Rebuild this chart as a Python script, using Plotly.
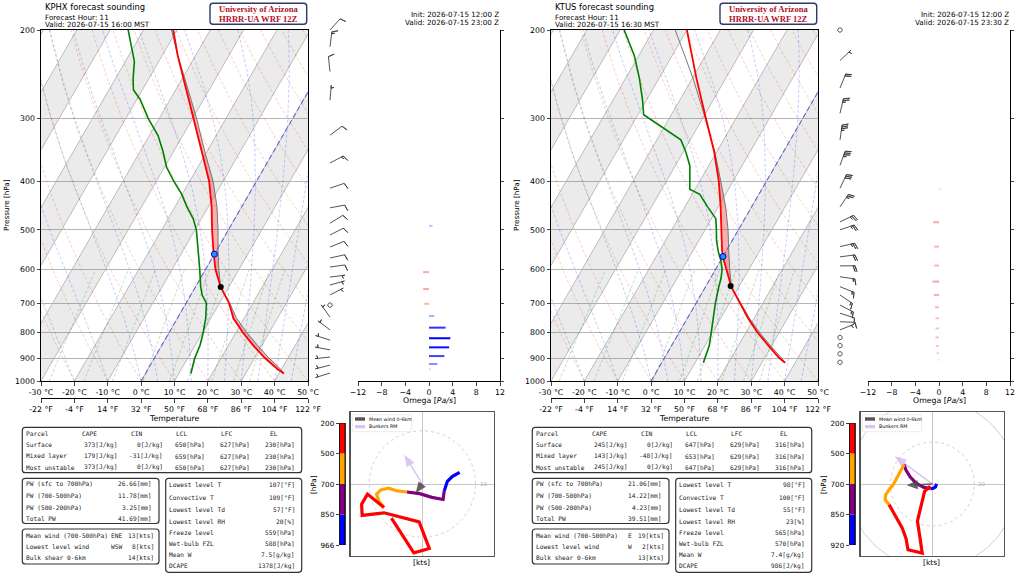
import numpy as np
import plotly.graph_objects as go

W, H = 1024, 575
SANS = "DejaVu Sans"
MONO = "DejaVu Sans Mono"
SERIF = "Liberation Serif"

# skew-T frame in pixels for the KPHX panel, the KTUS panel sits 510 px to the right
SK_L, SK_R, SK_T, SK_B = 41, 308, 30, 381
TMIN, TMAX = -30, 50
P_BOT, P_TOP = 1000.0, 200.0
LOG_PER_PX = np.log10(P_BOT / P_TOP) / (SK_B - SK_T)
SKEW = np.tan(np.radians(30)) * ((SK_B - SK_T) / np.log(P_BOT / P_TOP)) / ((SK_R - SK_L) / (TMAX - TMIN))
PRESSURE_TICKS = [200, 300, 400, 500, 600, 700, 800, 900, 1000]
TEMP_TICKS = list(range(-30, 51, 10))
OMEGA_TICKS = [-12, -8, -4, 0, 4, 8, 12]

# ---------------- KPHX ----------------
phx_p = [966, 950, 925, 900, 850, 800, 750, 700, 650, 600, 550, 500, 450, 400, 350, 300, 250, 225, 200]
phx_temp = [41.5, 39.2, 36.2, 33.1, 27.5, 22.0, 16.8, 12.9, 7.6, 3.0, -0.9, -4.9, -9.0, -14.2, -21.4, -29.8, -39.7, -45.3, -51.1]
phx_parcel = [41.5, 40.0, 37.3, 34.3, 28.8, 23.2, 17.7, 13.1, 7.6, 4.0, 0.5, -3.1, -7.4, -13.0, -20.5, -28.8, -39.2, -45.3, -51.6]
phx_td_p = [966, 900, 850, 800, 750, 700, 675, 650, 600, 550, 500, 475, 450, 425, 400, 375, 350, 325, 300, 275, 263, 250, 231, 200]
phx_td = [13.6, 12.1, 11.5, 10.2, 8.5, 6.1, 3.5, 1.6, -1.7, -5.5, -9.6, -12.5, -16.4, -20.1, -24.8, -29.4, -33.0, -37.3, -43.3, -49.0, -52.7, -54.7, -57.3, -64.6]
phx_lcl = (650, 7.6)
phx_frz = (559, 0.0)
phx_wind_p = [964, 930, 896, 867, 829, 791, 746, 706, 674, 644, 621, 593, 569, 541, 512, 485, 452, 413, 368, 324, 276, 242, 216, 200]
phx_u = [7.0, 5.6, 4.7, 4.2, 4.1, 3.9, 1.8, -0.5, -2.9, -4.7, -6.3, -7.8, -8.6, -8.1, -7.6, -7.2, -10.3, -11.4, -11.3, -7.2, -0.6, 1.3, -1.6, -5.8]
phx_v = [2.2, 1.4, 0.5, -0.8, -1.3, -2.9, -2.5, -1.8, -1.5, -1.3, -0.8, -1.1, -1.9, -3.3, -3.9, -4.4, -1.9, -3.8, -5.9, -5.4, -7.1, -12.1, -12.9, -6.4]
phx_mean_wind = (-1.25, -1.7)
phx_bunkers = (-3.4, 5.5)
phx_omega_p = [491, 607, 656, 702, 742, 783, 822, 857, 892, 925, 948]
phx_omega = [0.6, -1.0, -1.0, -0.8, 0.9, 2.8, 3.6, 3.4, 2.6, 1.4, 0.3]
phx_layers = ["966", "850", "700", "500", "200"]
phx_title = ["KPHX forecast sounding", "Forecast Hour: 11", "Valid: 2026-07-15 16:00 MST"]
phx_init = ["Init: 2026-07-15 12:00 Z", "Valid: 2026-07-15 23:00 Z"]
phx_parcel_rows = [["Surface", "373[J/kg]", "0[J/kg]", "650[hPa]", "627[hPa]", "230[hPa]"],
                   ["Mixed layer", "179[J/kg]", "-31[J/kg]", "659[hPa]", "627[hPa]", "230[hPa]"],
                   ["Most unstable", "373[J/kg]", "0[J/kg]", "650[hPa]", "627[hPa]", "230[hPa]"]]
phx_pw_rows = [["PW (sfc to 700hPa)", "26.66[mm]"], ["PW (700-500hPa)", "11.78[mm]"],
               ["PW (500-200hPa)", "3.25[mm]"], ["Total PW", "41.69[mm]"]]
phx_wind_rows = [["Mean wind (700-500hPa)", "ENE", "13[kts]"], ["Lowest level wind", "WSW", "8[kts]"],
                 ["Bulk shear 0-6km", "", "14[kts]"]]
phx_misc_rows = [["Lowest level T", "107[°F]"], ["Convective T", "109[°F]"], ["Lowest level Td", "57[°F]"],
                 ["Lowest level RH", "20[%]"], ["Freeze level", "559[hPa]"], ["Wet-bulb FZL", "588[hPa]"],
                 ["Mean W", "7.5[g/kg]"], ["DCAPE", "1378[J/kg]"]]

# ---------------- KTUS ----------------
tus_p = [920, 900, 850, 800, 750, 700, 650, 600, 575, 550, 500, 450, 400, 350, 300, 250, 200]
tus_temp = [37.0, 34.4, 29.0, 23.4, 18.2, 13.1, 7.8, 3.3, 0.9, -1.3, -5.1, -9.3, -14.3, -20.7, -29.0, -38.7, -50.0]
tus_parcel = [37.0, 35.1, 29.6, 24.0, 18.6, 13.3, 7.8, 4.3, 2.5, 0.7, -3.1, -7.8, -13.7, -20.5, -29.2, -39.7, -53.5]
tus_td_p = [920, 900, 850, 800, 750, 700, 650, 625, 600, 575, 550, 525, 500, 475, 450, 425, 415, 373, 350, 331, 295, 275, 250, 225, 200]
tus_td = [12.5, 12.1, 11.3, 9.6, 7.8, 5.8, 4.0, 3.2, 2.0, 0.0, -2.5, -4.7, -6.6, -8.7, -13.2, -17.7, -21.6, -25.6, -29.2, -32.8, -48.3, -51.3, -55.8, -61.3, -68.8]
tus_lcl = (647, 7.4)
tus_frz = (565, 0.0)
tus_wind_p = [918, 883, 850, 819, 791, 762, 733, 706, 674, 649, 620, 590, 566, 540, 500, 482, 450, 413, 372, 331, 293, 261, 230, 200]
tus_u = [2.0, 1.5, 0.5, -0.8, -4.0, -7.6, -10.5, -12.5, -13.5, -15.1, -17.0, -18.6, -20.6, -22.2, -22.5, -20.6, -14.3, -12.5, -11.6, -4.8, -6.0, -7.1, -3.7, -1.0]
tus_v = [0.1, -1.4, -2.0, -2.2, -1.6, 0.3, 3.3, 6.5, 9.2, 6.0, 2.5, -0.3, -2.7, -5.1, -7.5, -9.8, -21.0, -26.0, -31.3, -32.9, -25.0, -17.6, -3.5, -1.0]
tus_mean_wind = (-12.2, -0.6)
tus_bunkers = (-17.9, 13.2)
tus_omega_p = [415, 483, 540, 589, 634, 674, 713, 750, 786, 819, 852, 881, 908]
tus_omega = [0.2, -1.0, -0.8, -0.8, -1.1, -0.9, -0.7, -0.6, -0.6, -0.6, -0.5, -0.4, -0.2]
tus_layers = ["920", "850", "700", "500", "200"]
tus_title = ["KTUS forecast sounding", "Forecast Hour: 11", "Valid: 2026-07-15 16:30 MST"]
tus_init = ["Init: 2026-07-15 12:00 Z", "Valid: 2026-07-15 23:30 Z"]
tus_parcel_rows = [["Surface", "245[J/kg]", "0[J/kg]", "647[hPa]", "629[hPa]", "316[hPa]"],
                   ["Mixed layer", "143[J/kg]", "-48[J/kg]", "653[hPa]", "629[hPa]", "316[hPa]"],
                   ["Most unstable", "245[J/kg]", "0[J/kg]", "647[hPa]", "629[hPa]", "316[hPa]"]]
tus_pw_rows = [["PW (sfc to 700hPa)", "21.06[mm]"], ["PW (700-500hPa)", "14.22[mm]"],
               ["PW (500-200hPa)", "4.23[mm]"], ["Total PW", "39.51[mm]"]]
tus_wind_rows = [["Mean wind (700-500hPa)", "E", "19[kts]"], ["Lowest level wind", "W", "2[kts]"],
                 ["Bulk shear 0-6km", "", "13[kts]"]]
tus_misc_rows = [["Lowest level T", "98[°F]"], ["Convective T", "100[°F]"], ["Lowest level Td", "55[°F]"],
                 ["Lowest level RH", "23[%]"], ["Freeze level", "565[hPa]"], ["Wet-bulb FZL", "570[hPa]"],
                 ["Mean W", "7.4[g/kg]"], ["DCAPE", "986[J/kg]"]]

parcel_header = ["Parcel", "CAPE", "CIN", "LCL", "LFC", "EL"]
fahrenheit_ticks = ["-22 °F", "-4 °F", "14 °F", "32 °F", "50 °F", "68 °F", "86 °F", "104 °F", "122 °F"]
mixing_ratios = [0.4, 1, 2, 4, 7, 10, 16, 24, 32]  # g/kg
LAYER_COLORS = ["#0000ff", "#800080", "#ffa500", "#ff0000"]

stations = [
    dict(p=phx_p, t=phx_temp, parcel=phx_parcel, td_p=phx_td_p, td=phx_td, lcl=phx_lcl, frz=phx_frz,
         wp=phx_wind_p, u=phx_u, v=phx_v, mean=phx_mean_wind, rm=phx_bunkers, ring=10, hodo_r=13.45,
         op=phx_omega_p, om=phx_omega, layers=phx_layers, title=phx_title, init=phx_init,
         prow=phx_parcel_rows, pw=phx_pw_rows, wrow=phx_wind_rows, misc=phx_misc_rows, off=0),
    dict(p=tus_p, t=tus_temp, parcel=tus_parcel, td_p=tus_td_p, td=tus_td, lcl=tus_lcl, frz=tus_frz,
         wp=tus_wind_p, u=tus_u, v=tus_v, mean=tus_mean_wind, rm=tus_bunkers, ring=20, hodo_r=34.1,
         op=tus_omega_p, om=tus_omega, layers=tus_layers, title=tus_title, init=tus_init,
         prow=tus_parcel_rows, pw=tus_pw_rows, wrow=tus_wind_rows, misc=tus_misc_rows, off=510),
]

layout = dict(template="none", width=W, height=H, margin=dict(l=0, r=0, t=0, b=0, autoexpand=False),
              paper_bgcolor="white", plot_bgcolor="white", showlegend=False, barmode="overlay",
              font=dict(family=SANS, size=8, color="black"))
traces, annotations, shapes = [], [], []
counter = {"x": 0, "y": 0}


def axis_id(kind):
    counter[kind] += 1
    n = counter[kind]
    suffix = "" if n == 1 else str(n)
    return kind + suffix, kind + "axis" + suffix


def add_pair(xkw, ykw):
    xid, xkey = axis_id("x")
    yid, ykey = axis_id("y")
    xkw["anchor"], ykw["anchor"] = yid, xid
    xkw["automargin"] = ykw["automargin"] = False
    layout[xkey], layout[ykey] = xkw, ykw
    return xid, yid


def dom_x(a, b):
    return [a / W, b / W]


def dom_y(top, bottom):
    return [1 - bottom / H, 1 - top / H]


def add(trace, xid, yid):
    trace.update(xaxis=xid, yaxis=yid, showlegend=False, hoverinfo="skip")
    traces.append(trace)


def text(x, y, s, size=8, anchor="left", family=SANS, color="black", angle=0):
    annotations.append(dict(x=x / W, y=1 - y / H, xref="paper", yref="paper", text=s, showarrow=False,
                            xanchor=anchor, yanchor="middle", textangle=angle, borderpad=0,
                            font=dict(size=size, family=family, color=color)))


def rounded_box(x0, y0, x1, y1, color="#333333", width=1.2, r=3, fill=None):
    def P(x, y):
        return f"{x / W:.5f},{1 - y / H:.5f}"
    path = (f"M {P(x0 + r, y0)} L {P(x1 - r, y0)} Q {P(x1, y0)} {P(x1, y0 + r)} "
            f"L {P(x1, y1 - r)} Q {P(x1, y1)} {P(x1 - r, y1)} L {P(x0 + r, y1)} "
            f"Q {P(x0, y1)} {P(x0, y1 - r)} L {P(x0, y0 + r)} Q {P(x0, y0)} {P(x0 + r, y0)} Z")
    shapes.append(dict(type="path", path=path, xref="paper", yref="paper",
                       line=dict(color=color, width=width), fillcolor=fill or "rgba(0,0,0,0)"))


def skx(t, p):
    return np.asarray(t, float) + SKEW * np.log(P_BOT / np.asarray(p, float))


def moist_lapse(t0, pres):
    rd, cp, lv, eps = 287.04, 1005.7, 2.501e6, 0.622

    def slope(tk, pp):
        es = 6.112 * np.exp(17.67 * (tk - 273.15) / (tk - 29.65))
        rs = eps * es / (pp - es)
        return (rd * tk + lv * rs) / (cp + lv * lv * rs * eps / (rd * tk * tk)) / pp

    t = t0 + 273.15
    out = [t]
    for pa, pb in zip(pres[:-1], pres[1:]):
        dp = pb - pa
        k1 = slope(t, pa)
        k2 = slope(t + k1 * dp, pb)
        t = t + 0.5 * (k1 + k2) * dp
        out.append(t)
    return np.array(out) - 273.15


def barb_xy(u, v, length=15.0):
    """Wind barb outline in pixel offsets (east, north) like matplotlib's barbs."""
    spd = float(np.hypot(u, v))
    mag = int(5 * round(spd / 5))
    if mag == 0:
        a = np.linspace(0, 2 * np.pi, 17)
        return list(0.15 * length * np.cos(a)), list(0.15 * length * np.sin(a))
    d = np.array([-u, -v]) / spd
    n = np.array([d[1], -d[0]])
    fh, fw, sp = 0.4 * length, 0.25 * length, 0.125 * length
    pts = [np.zeros(2), length * d]
    off = length
    flags, rest = divmod(mag, 50)
    full, rest = divmod(rest, 10)
    for _ in range(flags):
        pts += [off * d, (off - fw / 2) * d + fh * n, (off - fw) * d]
        off -= fw + sp
    for _ in range(full):
        pts += [off * d, off * d + fh * n + fw / 2 * d, off * d]
        off -= sp
    if rest >= 5:
        if off == length:
            off -= 1.5 * sp
        pts += [off * d, off * d + fh / 2 * n + fw / 4 * d, off * d]
    pts = np.array(pts)
    return list(pts[:, 0]), list(pts[:, 1])


def arrow_poly(u, v, head_len, head_w, shaft_w):
    L = float(np.hypot(u, v))
    d = np.array([u, v]) / L
    n = np.array([-d[1], d[0]])
    hl = min(head_len, L)
    b = (L - hl) * d
    pts = [n * shaft_w / 2, b + n * shaft_w / 2, b + n * head_w / 2, L * d,
           b - n * head_w / 2, b - n * shaft_w / 2, -n * shaft_w / 2, n * shaft_w / 2]
    pts = np.array(pts)
    return list(pts[:, 0]), list(pts[:, 1])


def draw_station(st):
    o = st["off"]
    log_top, log_bot = np.log10(P_TOP), np.log10(P_BOT)

    # ---------- skew-T ----------
    sx, sy = add_pair(
        dict(domain=dom_x(SK_L + o, SK_R + o), range=[TMIN, TMAX], tickvals=TEMP_TICKS,
             ticktext=[f"{t} °C" for t in TEMP_TICKS], ticks="outside", ticklen=3.5, showline=True,
             linecolor="black", linewidth=1, mirror=True, showgrid=False, zeroline=False,
             tickfont=dict(size=7.8)),
        dict(domain=dom_y(SK_T, SK_B), type="log", range=[log_bot, log_top], tickvals=PRESSURE_TICKS,
             ticktext=[str(p) for p in PRESSURE_TICKS], ticks="outside", ticklen=3.5, showline=True,
             linecolor="black", linewidth=1, mirror=True, showgrid=True, gridcolor="#b4b4b4",
             gridwidth=1, zeroline=False, tickfont=dict(size=7.8)))
    fid, fkey = axis_id("x")
    layout[fkey] = dict(domain=dom_x(SK_L + o, SK_R + o), range=[TMIN, TMAX], overlaying=sx,
                        anchor="free", position=1 - 398 / H, side="bottom", tickvals=TEMP_TICKS,
                        ticktext=fahrenheit_ticks, ticks="outside", ticklen=3.5, showline=True,
                        linecolor="black", linewidth=1, showgrid=False, zeroline=False,
                        automargin=False, tickfont=dict(size=7.8))
    add(go.Scatter(x=[0], y=[500], mode="markers", marker=dict(opacity=0, size=1)), fid, sy)

    bx, by = [], []
    for t1 in range(-100, 41, 20):
        for t, p in [(t1, P_BOT), (t1 + 10, P_BOT), (t1 + 10, P_TOP), (t1, P_TOP)]:
            bx.append(float(skx(t, p)))
            by.append(p)
        bx.append(None)
        by.append(None)
    add(go.Scatter(x=bx, y=by, mode="lines", fill="toself", fillcolor="rgba(128,128,128,0.16)",
                   line=dict(width=0)), sx, sy)

    ix, iy = [], []
    for t in range(-100, 51, 10):
        ix += [float(skx(t, P_BOT)), float(skx(t, P_TOP)), None]
        iy += [P_BOT, P_TOP, None]
    add(go.Scatter(x=ix, y=iy, mode="lines", line=dict(color="#b4b4b4", width=0.9)), sx, sy)

    pp = np.linspace(P_BOT, P_TOP, 81)
    dx, dy = [], []
    for t0 in range(-30, 251, 10):
        tt = (t0 + 273.15) * (pp / 1000.0) ** 0.2857 - 273.15
        dx += list(skx(tt, pp)) + [None]
        dy += list(pp) + [None]
    add(go.Scatter(x=dx, y=dy, mode="lines", line=dict(color="rgba(255,0,0,0.3)", width=0.7, dash="3px,2px")), sx, sy)

    mx, my = [], []
    for t0 in [-30, -20, -10] + list(range(0, 51, 5)):
        tt = moist_lapse(t0, pp)
        mx += list(skx(tt, pp)) + [None]
        my += list(pp) + [None]
    add(go.Scatter(x=mx, y=my, mode="lines", line=dict(color="rgba(0,0,255,0.3)", width=0.7, dash="3px,2px")), sx, sy)

    pw = np.linspace(P_BOT, 600, 9)
    wx, wy = [], []
    for w in mixing_ratios:
        e = pw * (w / 1000.0) / (0.622 + w / 1000.0)
        le = np.log(e / 6.112)
        td = 243.5 * le / (17.67 - le)
        wx += list(skx(td, pw)) + [None]
        wy += list(pw) + [None]
    add(go.Scatter(x=wx, y=wy, mode="lines", line=dict(color="rgba(0,128,0,0.35)", width=0.7, dash="3px,2px")), sx, sy)

    add(go.Scatter(x=[float(skx(0, P_BOT)), float(skx(0, P_TOP))], y=[P_BOT, P_TOP], mode="lines",
                   line=dict(color="rgba(70,70,220,0.75)", width=1.1, dash="5px,3px")), sx, sy)

    p = np.array(st["p"], float)
    t = np.array(st["t"], float)
    par = np.array(st["parcel"], float)
    xt = skx(t, p)
    xpar = skx(par, p)
    xcape = skx(np.maximum(par, t), p)
    add(go.Scatter(x=list(xcape) + list(xt[::-1]), y=list(p) + list(p[::-1]), mode="lines", fill="toself",
                   fillcolor="rgba(230,60,60,0.4)", line=dict(width=0)), sx, sy)
    add(go.Scatter(x=xpar, y=p, mode="lines", line=dict(color="#777777", width=1)), sx, sy)
    add(go.Scatter(x=xt, y=p, mode="lines", line=dict(color="#ff0000", width=1.8)), sx, sy)
    add(go.Scatter(x=skx(st["td"], st["td_p"]), y=st["td_p"], mode="lines",
                   line=dict(color="#008000", width=1.6)), sx, sy)
    add(go.Scatter(x=[float(skx(st["lcl"][1], st["lcl"][0]))], y=[st["lcl"][0]], mode="markers",
                   marker=dict(color="black", size=6)), sx, sy)
    add(go.Scatter(x=[float(skx(st["frz"][1], st["frz"][0]))], y=[st["frz"][0]], mode="markers",
                   marker=dict(color="#1e90ff", size=6, line=dict(color="#0000cc", width=1))), sx, sy)

    # ---------- wind barbs ----------
    bxid, byid = add_pair(
        dict(domain=dom_x(309 + o, 357 + o), range=[0, 48], visible=False),
        dict(domain=dom_y(10, 395), type="log", visible=False,
             range=[log_bot + 14 * LOG_PER_PX, log_top - 20 * LOG_PER_PX]))
    gx, gy = [], []
    for pw_, u, v in zip(st["wp"], st["u"], st["v"]):
        ex, ny = barb_xy(u, v)
        gx += [21 + e for e in ex] + [None]
        gy += [pw_ * 10 ** (-k * LOG_PER_PX) for k in ny] + [None]
    add(go.Scatter(x=gx, y=gy, mode="lines", line=dict(color="#404040", width=0.9)), bxid, byid)

    # ---------- omega ----------
    ox, oy = add_pair(
        dict(domain=dom_x(358 + o, 500 + o), range=[-12, 12], tickvals=OMEGA_TICKS,
             ticktext=[str(v).replace("-", "\u2212") for v in OMEGA_TICKS], ticks="outside", ticklen=3.5,
             showline=True, linecolor="black", linewidth=1, showgrid=False, zeroline=False,
             tickfont=dict(size=7.8)),
        dict(domain=dom_y(SK_T, SK_B), type="log", range=[log_bot, log_top], side="right",
             tickvals=PRESSURE_TICKS, showticklabels=False, ticks="outside", ticklen=3,
             showline=True, linecolor="black", linewidth=1, showgrid=False, zeroline=False))
    for p_, w in zip(st["op"], st["om"]):
        a = min(1.0, abs(w) / 3.6) * 0.9 + 0.1
        col = f"rgba(0,0,255,{a:.2f})" if w > 0 else f"rgba(255,0,0,{a:.2f})"
        add(go.Scatter(x=[0, w], y=[p_, p_], mode="lines", line=dict(color=col, width=2)), ox, oy)

    # ---------- hodograph colour bar ----------
    cx, cy = add_pair(
        dict(domain=dom_x(339.5 + o, 345 + o), range=[-0.5, 0.5], visible=False),
        dict(domain=dom_y(423, 545), range=[0, 4], tickvals=[0, 1, 2, 3, 4], ticktext=st["layers"],
             ticks="outside", ticklen=3, showline=True, linecolor="black", linewidth=0.8, mirror=True,
             showgrid=False, zeroline=False, tickfont=dict(size=7.2)))
    add(go.Bar(x=[0, 0, 0, 0], y=[1, 1, 1, 1], base=[0, 1, 2, 3], width=1,
               marker=dict(color=LAYER_COLORS, line=dict(width=0))), cx, cy)
    shapes.append(dict(type="rect", xref=cx, yref=cy, x0=-0.5, x1=0.5, y0=0, y1=4,
                       line=dict(color="black", width=0.8)))

    # ---------- hodograph ----------
    R = st["hodo_r"]
    hx, hy = add_pair(
        dict(domain=dom_x(350.7 + o, 494 + o), range=[-R, R], showticklabels=False, ticks="",
             showline=True, linecolor="#555555", linewidth=1.3, mirror=True, showgrid=False,
             zeroline=True, zerolinecolor="#c8c8c8", zerolinewidth=1),
        dict(domain=dom_y(412.3, 555.7), range=[-R, R], showticklabels=False, ticks="",
             showline=True, linecolor="#555555", linewidth=1.3, mirror=True, showgrid=False,
             zeroline=True, zerolinecolor="#c8c8c8", zerolinewidth=1))
    a = np.linspace(0, 2 * np.pi, 121)
    r1 = st["ring"]
    add(go.Scatter(x=r1 * np.cos(a), y=r1 * np.sin(a), mode="lines",
                   line=dict(color="#c8c8c8", width=0.8, dash="dot")), hx, hy)
    add(go.Scatter(x=2 * r1 * np.cos(a), y=2 * r1 * np.sin(a), mode="lines",
                   line=dict(color="#cfcfcf", width=1)), hx, hy)
    annotations.append(dict(x=r1 * 1.04, y=0, xref=hx, yref=hy, text=str(r1), showarrow=False,
                            xanchor="left", yanchor="middle", font=dict(size=5.5, color="#b0b0b0")))

    kt_px = R / 71.7
    bu, bv = arrow_poly(st["rm"][0], st["rm"][1], 12 * kt_px, 9 * kt_px, 1.6 * kt_px)
    add(go.Scatter(x=bu, y=bv, mode="lines", fill="toself", fillcolor="rgba(200,160,235,0.6)",
                   line=dict(width=0)), hx, hy)

    wp = st["wp"]
    layer = [0 if q >= 850 else 1 if q >= 700 else 2 if q >= 500 else 3 for q in wp[:-1]]
    i = 0
    while i < len(layer):
        j = i
        while j + 1 < len(layer) and layer[j + 1] == layer[i]:
            j += 1
        add(go.Scatter(x=st["u"][i:j + 2], y=st["v"][i:j + 2], mode="lines",
                       line=dict(color=LAYER_COLORS[layer[i]], width=3.2)), hx, hy)
        i = j + 1

    mu, mv = arrow_poly(st["mean"][0], st["mean"][1], 11 * kt_px, 9 * kt_px, 1.6 * kt_px)
    add(go.Scatter(x=mu, y=mv, mode="lines", fill="toself", fillcolor="rgba(70,70,70,0.85)",
                   line=dict(width=0)), hx, hy)

    # hodograph legend
    rounded_box(352.3 + o, 414.7, 411.7 + o, 431.7, color="#dddddd", width=0.6, r=2, fill="white")
    shapes.append(dict(type="rect", xref="paper", yref="paper", x0=(355 + o) / W, x1=(365 + o) / W,
                       y0=1 - 420.7 / H, y1=1 - 417.3 / H, line=dict(width=0), fillcolor="#555555"))
    shapes.append(dict(type="rect", xref="paper", yref="paper", x0=(355 + o) / W, x1=(365 + o) / W,
                       y0=1 - 428.3 / H, y1=1 - 425 / H, line=dict(width=0), fillcolor="#dcc4f2"))
    text(368 + o, 419, "Mean wind 0-6km", size=4.8)
    text(368 + o, 426.7, "Bunkers RM", size=4.8)
    text(313 + o, 485, "[hPa]", size=7.2, anchor="center", angle=-90)
    text(421.7 + o, 562.5, "[kts]", size=7.5, anchor="center")

    # ---------- titles and labels ----------
    text(43.5 + o, 6.8, st["title"][0], size=8.4)
    text(43.5 + o, 17.3, st["title"][1], size=7.2)
    text(43.5 + o, 24.8, st["title"][2], size=7.2)
    rounded_box(210 + o, 3.3, 306.7 + o, 24.3, color="#2b3a67", width=1.4, r=3, fill="white")
    text(258.3 + o, 9.2, "<b>University of Arizona</b>", size=8.6, anchor="center", family=SERIF, color="#b0102a")
    text(258.3 + o, 18.6, "<b>HRRR-UA WRF 12Z</b>", size=8.6, anchor="center", family=SERIF, color="#b0102a")
    text(499.5 + o, 14.2, st["init"][0], size=7.2, anchor="right")
    text(499.5 + o, 22.2, st["init"][1], size=7.2, anchor="right")
    text(7 + o, 205, "Pressure [hPa]", size=7.2, anchor="center", angle=-90)
    text(174.5 + o, 418.3, "Temperature", size=7.8, anchor="center")
    text(429 + o, 400.5, "Omega [<i>Pa/s</i>]", size=7.8, anchor="center")

    # ---------- tables ----------
    def cell(x, y, s, anchor="left"):
        text(x + o, y, s, size=6.2, anchor=anchor, family=MONO, color="#222222")

    rounded_box(22.3 + o, 427.3, 301.7 + o, 472.7)
    rows_y = [433.3, 444.7, 456, 467.3]
    for hx_, h in zip([24.5, 81, 130, 174.5, 220, 268.5], parcel_header):
        cell(hx_, rows_y[0], h)
    for y, row in zip(rows_y[1:], st["prow"]):
        cell(24.5, y, row[0])
        cell(118.5, y, row[1], "right")
        cell(163.5, y, row[2], "right")
        cell(205.5, y, row[3], "right")
        cell(251, y, row[4], "right")
        cell(295.5, y, row[5], "right")

    rounded_box(22.3 + o, 478.3, 159 + o, 523.5)
    for y, row in zip([483.5, 495.7, 507.2, 518.4], st["pw"]):
        cell(25, y, row[0])
        cell(152.5, y, row[1], "right")

    rounded_box(22.3 + o, 529, 159 + o, 564)
    for y, row in zip([535.3, 546.3, 557.3], st["wrow"]):
        cell(25, y, row[0])
        cell(122.7, y, row[1], "right")
        cell(155, y, row[2], "right")

    rounded_box(165.7 + o, 478.3, 301.7 + o, 572.3)
    for y, row in zip([484, 497, 509.3, 521, 532.3, 543.7, 554.7, 565.7], st["misc"]):
        cell(167.7, y, row[0])
        cell(295.5, y, row[1], "right")


for st in stations:
    draw_station(st)

layout["annotations"] = annotations
layout["shapes"] = shapes
fig = go.Figure(data=traces, layout=layout)
# the page body has a default 8px margin; drop it so the figure sits at the window's corner
fig.write_html("out.html", config={"displayModeBar": False, "staticPlot": True},
               post_script="document.body.style.margin = '0px';")
